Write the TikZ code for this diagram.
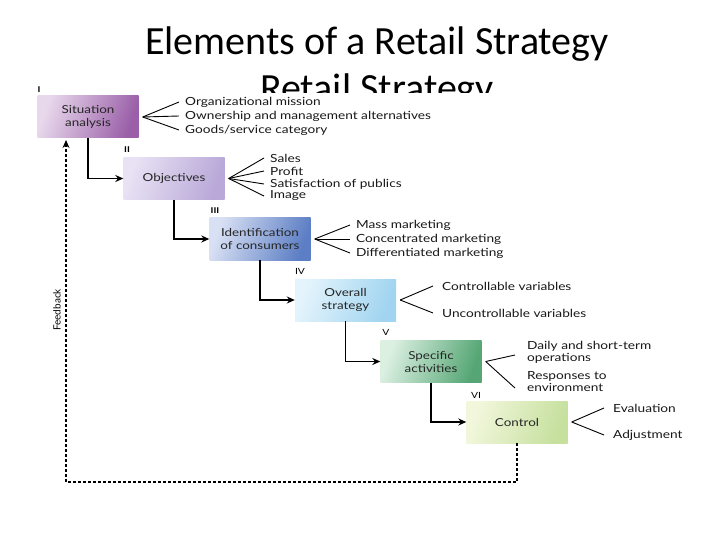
\documentclass[tikz,border=0pt]{standalone}
\usepackage{fontspec}
\setmainfont{Lato}[FakeStretch=1.22]
\newfontfamily\titlefont{Carlito}
\newfontfamily\fbfont{Lato}
\usetikzlibrary{arrows.meta}
\definecolor{c1l}{HTML}{E8D8EC}\definecolor{c1r}{HTML}{9A5FA8}
\definecolor{c2l}{HTML}{E8E2F4}\definecolor{c2r}{HTML}{B9A8D8}
\definecolor{c3l}{HTML}{D8E0F4}\definecolor{c3r}{HTML}{5C7EC4}
\definecolor{c4l}{HTML}{E4F4FC}\definecolor{c4r}{HTML}{A0D4F0}
\definecolor{c5l}{HTML}{DCF0E2}\definecolor{c5r}{HTML}{55A674}
\definecolor{c6l}{HTML}{F2F7DC}\definecolor{c6r}{HTML}{C6E09E}
\begin{document}
\begin{tikzpicture}[x=1pt,y=-1pt,
  stagebox/.style={minimum width=101pt,minimum height=42pt,inner sep=0pt,align=center,
    font=\fontsize{11}{13}\selectfont,text=black!85,shading angle=70},
  item/.style={anchor=west,inner sep=0pt,align=left,font=\fontsize{11.2}{12}\selectfont,text=black!90},
  fan/.style={line width=0.9pt},
  flow/.style={line width=1.4pt,-{Stealth[length=8pt,width=7pt]}},
  fb/.style={line width=1.5pt,dash pattern=on 3pt off 2pt,-{Stealth[length=8pt,width=7pt]}},
  num/.style={inner sep=0pt,font=\fontsize{8}{9}\selectfont\bfseries}]
\useasboundingbox (0,0) rectangle (720,540);
\fill[white] (0,0) rectangle (720,540);
% title
\node[inner sep=0pt,font=\titlefont\fontsize{40}{44}\selectfont] (title) at (377,44) {Elements of a Retail Strategy};
\begin{scope}
\clip (200,60) rectangle (560,93);
\node[inner sep=0pt,anchor=base,font=\titlefont\fontsize{40}{44}\selectfont] (sub) at (377,102) {Retail Strategy};
\end{scope}
% boxes
\node[stagebox,left color=c1l,right color=c1r,shading angle=70] (s1) at (88,117) {Situation\\analysis};
\node[stagebox,left color=c2l,right color=c2r,shading angle=70] (s2) at (174,178.5) {Objectives};
\node[stagebox,left color=c3l,right color=c3r,shading angle=70] (s3) at (260,239) {Identification\\of consumers};
\node[stagebox,left color=c4l,right color=c4r,shading angle=70] (s4) at (345.5,300) {Overall\\strategy};
\node[stagebox,left color=c5l,right color=c5r,shading angle=70] (s5) at (431,361.5) {Specific\\activities};
\node[stagebox,left color=c6l,right color=c6r,shading angle=70] (s6) at (517,422) {Control};
% numerals
\node[num] (n1) at (39,90) {I};
\node[num] (n2) at (127,150) {II};
\node[num] (n3) at (215,211) {III};
\node[num,font=\fontsize{8.5}{9}\selectfont] (n4) at (300,271) {IV};
\node[num,font=\fontsize{8.5}{9}\selectfont] (n5) at (386,332) {V};
\node[num,font=\fontsize{8.5}{9}\selectfont] (n6) at (476,395) {VI};
% flow arrows
\draw[flow] (s1.south) |- (s2.west);
\draw[flow] (s2.south) |- (s3.west);
\draw[flow] (s3.south) |- (s4.west);
\draw[flow] (s4.south) |- (s5.west);
\draw[flow] (s5.south) |- (s6.west);
% feedback
\coordinate (fbc) at (66,482);
\coordinate (fbin) at (66,140);
\draw[fb] (s6.south) |- (fbc) -- (fbin);
\node[inner sep=0pt,rotate=90,font=\fbfont\fontsize{10}{11}\selectfont] (fbl) at (57,310) {Feedback};
% items 1
\node[item] (t1a) at (185,102) {Organizational mission};
\node[item] (t1b) at (185,116) {Ownership and management alternatives};
\node[item] (t1c) at (185,130) {Goods/service category};
\coordinate (f1) at ([xshift=4pt]s1.east);
\foreach \t in {t1a,t1b,t1c} \draw[fan] (f1) -- ([xshift=-6pt]\t.west);
% items 2
\node[item] (t2a) at (270,158) {Sales};
\node[item] (t2b) at (270,171) {Profit};
\node[item] (t2c) at (270,184) {Satisfaction of publics};
\node[item] (t2d) at (270,196) {Image};
\coordinate (f2) at ([xshift=4pt]s2.east);
\foreach \t in {t2a,t2b,t2c,t2d} \draw[fan] (f2) -- ([xshift=-6pt]\t.west);
% items 3
\node[item] (t3a) at (356,225) {Mass marketing};
\node[item] (t3b) at (356,239) {Concentrated marketing};
\node[item] (t3c) at (356,253) {Differentiated marketing};
\coordinate (f3) at ([xshift=4pt]s3.east);
\foreach \t in {t3a,t3b,t3c} \draw[fan] (f3) -- ([xshift=-6pt]\t.west);
% items 4
\node[item] (t4a) at (442,286) {Controllable variables};
\node[item] (t4b) at (442,313) {Uncontrollable variables};
\coordinate (f4) at ([xshift=4pt]s4.east);
\foreach \t in {t4a,t4b} \draw[fan] (f4) -- ([xshift=-9pt]\t.west);
% items 5
\node[item] (t5a) at (527,352) {Daily and short-term\\operations};
\node[item] (t5b) at (527,382) {Responses to\\environment};
\coordinate (f5) at ([xshift=4pt]s5.east);
\draw[fan] (f5) -- ([xshift=-12pt,yshift=-3pt]t5a.west);
\draw[fan] (f5) -- ([xshift=-12pt,yshift=-6pt]t5b.west);
% items 6
\node[item] (t6a) at (613,408) {Evaluation};
\node[item] (t6b) at (613,435) {Adjustment};
\coordinate (f6) at ([xshift=4pt]s6.east);
\foreach \t in {t6a,t6b} \draw[fan] (f6) -- ([xshift=-9pt]\t.west);
\end{tikzpicture}
\end{document}
